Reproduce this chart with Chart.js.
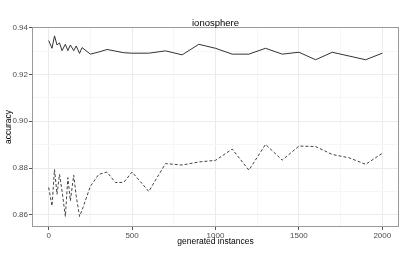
<!DOCTYPE html>
<html>
<head>
<meta charset="utf-8">
<script src="https://cdn.jsdelivr.net/npm/chart.js@4/dist/chart.umd.min.js"></script>
<style>
  html, body { margin: 0; padding: 0; background: #fff; }
  #wrap { width: 407px; height: 259px; }
</style>
</head>
<body>
<div id="wrap"><canvas id="chart" width="407" height="259"></canvas></div>
<script>
const chartTitle = 'ionosphere';
const instances = [0, 20, 35, 50, 65, 80, 100, 115, 130, 150, 165, 185, 200, 250, 300, 350, 400, 450, 500,
  600, 700, 800, 900, 1000, 1100, 1200, 1300, 1400, 1500, 1600, 1700, 1800, 1900, 2000];
const solidAcc = [0.9345, 0.9312, 0.9365, 0.9326, 0.9335, 0.9302, 0.9329, 0.9302, 0.9326, 0.9302, 0.9322, 0.9290, 0.9315,
  0.9287, 0.9296, 0.9307, 0.9300, 0.9293, 0.9291,
  0.9291, 0.9301, 0.9284, 0.9329, 0.9312, 0.9287, 0.9287, 0.9312, 0.9287, 0.9295, 0.9263, 0.9295, 0.9279, 0.9263, 0.9291];
const dashedAcc = [0.8717, 0.8638, 0.8794, 0.8688, 0.8773, 0.8702, 0.8593, 0.8759, 0.8660, 0.8769, 0.8681, 0.8593, 0.8620,
  0.8722, 0.8773, 0.8783, 0.8738, 0.8739, 0.8783,
  0.8700, 0.8819, 0.8813, 0.8826, 0.8833, 0.8881, 0.8791, 0.8901, 0.8834, 0.8894, 0.8892, 0.8858, 0.8844, 0.8816, 0.8863];
const xTicks = [0, 250, 500, 750, 1000, 1250, 1500, 1750, 2000];
const yTicks = [0.86, 0.87, 0.88, 0.89, 0.90, 0.91, 0.92, 0.93, 0.94];

const FONT = '"Liberation Sans", Arial, sans-serif';
const isMajorX = v => v % 500 === 0;
const isMajorY = v => Math.round(v * 100) % 2 === 0;

const panel = {
  id: 'panel',
  afterDraw(chart) {
    const {ctx, chartArea: a} = chart;
    ctx.save();
    ctx.strokeStyle = '#9a9a9a';
    ctx.lineWidth = 1;
    ctx.strokeRect(a.left + 0.5, a.top + 0.5, a.right - a.left - 1, a.bottom - a.top - 1);
    ctx.fillStyle = '#000';
    ctx.font = '9.5px ' + FONT;
    ctx.textAlign = 'center';
    ctx.textBaseline = 'middle';
    ctx.fillText(chartTitle, (a.left + a.right) / 2, 23);
    ctx.restore();
  }
};

new Chart(document.getElementById('chart').getContext('2d'), {
  type: 'line',
  data: {
    datasets: [
      {
        label: 'solid',
        data: instances.map((x, i) => ({x: x, y: solidAcc[i]})),
        borderColor: '#333',
        borderWidth: 1,
        pointRadius: 0,
        tension: 0,
        fill: false
      },
      {
        label: 'dashed',
        data: instances.map((x, i) => ({x: x, y: dashedAcc[i]})),
        borderColor: '#444',
        borderWidth: 1,
        borderDash: [3, 2],
        pointRadius: 0,
        tension: 0,
        fill: false
      }
    ]
  },
  options: {
    responsive: false,
    animation: false,
    layout: {padding: {top: 27, right: 8, left: 0, bottom: 0}},
    plugins: {legend: {display: false}, tooltip: {enabled: false}, title: {display: false}},
    scales: {
      x: {
        type: 'linear',
        min: -100,
        max: 2100,
        afterBuildTicks: s => { s.ticks = xTicks.map(v => ({value: v})); },
        afterFit: s => { s.height = 32; },
        grid: {
          color: c => isMajorX(c.tick.value) ? '#ebebeb' : '#f6f6f6',
          tickColor: c => isMajorX(c.tick.value) ? '#555' : 'rgba(0,0,0,0)',
          tickLength: 3,
          drawOnChartArea: true
        },
        border: {display: false},
        ticks: {
          autoSkip: false,
          maxRotation: 0,
          padding: 1,
          color: '#4d4d4d',
          font: {family: FONT, size: 8},
          callback: v => isMajorX(v) ? String(v) : ''
        },
        title: {display: true, text: 'generated instances', color: '#000', font: {family: FONT, size: 8.5}, padding: {top: 0, bottom: 12}}
      },
      y: {
        type: 'linear',
        min: 0.8548,
        max: 0.9403,
        afterBuildTicks: s => { s.ticks = yTicks.map(v => ({value: v})); },
        afterFit: s => { s.width = 32; },
        grid: {
          color: c => isMajorY(c.tick.value) ? '#ebebeb' : '#f6f6f6',
          tickColor: c => isMajorY(c.tick.value) ? '#555' : 'rgba(0,0,0,0)',
          tickLength: 3
        },
        border: {display: false},
        ticks: {
          autoSkip: false,
          padding: 1,
          color: '#4d4d4d',
          font: {family: FONT, size: 8},
          callback: v => isMajorY(v) ? v.toFixed(2) : ''
        },
        title: {display: true, text: 'accuracy', color: '#000', font: {family: FONT, size: 8.5}, padding: {top: 4, bottom: 0}}
      }
    }
  },
  plugins: [panel]
});
</script>
</body>
</html>
